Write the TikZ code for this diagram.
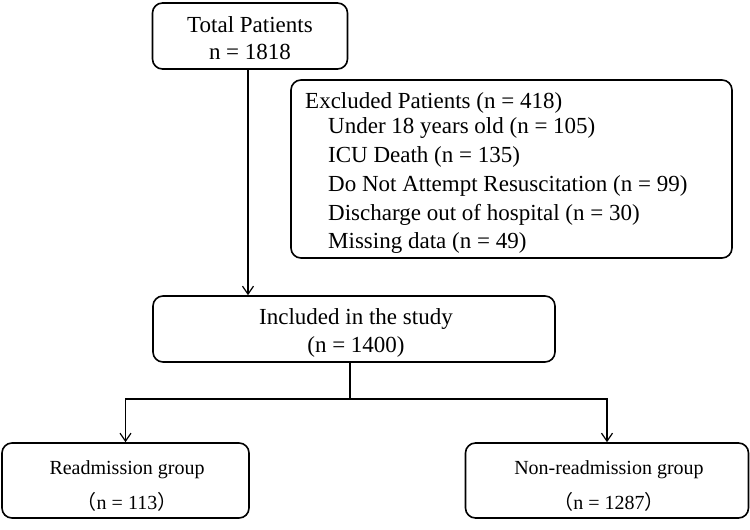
\documentclass[tikz,border=0pt]{standalone}
\usepackage{fontspec}
\setmainfont{Liberation Serif}
\newfontfamily\cjk{Noto Sans CJK SC}
\usetikzlibrary{arrows.meta}
\begin{document}
\begin{tikzpicture}[x=1pt,y=-1pt,
  box/.style={draw, line width=1.6pt, rounded corners=10pt, inner sep=0pt, align=center},
  conn/.style={line width=1.2pt},
  arr/.style={conn,-{Straight Barb[length=8pt,width=11pt,line width=1.2pt]}},
  big/.style={font=\fontsize{23}{27.5}\selectfont},
  txt/.style={inner sep=0pt, align=center},
  small/.style={font=\fontsize{20}{35}\selectfont},
  line/.style={anchor=base west, inner sep=0pt, font=\fontsize{23}{27.5}\selectfont}]
\useasboundingbox (0,0) rectangle (750,530);

\node[box, minimum width=195pt, minimum height=66pt] (total) at (250,36) {};
\node[txt, big] (totalt) at (250,38) {Total Patients\\n = 1818};

\node[box, minimum width=441pt, minimum height=178pt] (excl) at (511.5,169) {};
\node[line] (e0) at (305,108) {Excluded Patients (n = 418)};
\node[line] (e1) at (328,133) {Under 18 years old (n = 105)};
\node[line] (e2) at (328,162) {ICU Death (n = 135)};
\node[line] (e3) at (328,191) {Do Not Attempt Resuscitation (n = 99)};
\node[line] (e4) at (328,220) {Discharge out of hospital (n = 30)};
\node[line] (e5) at (328,248) {Missing data (n = 49)};

\node[box, minimum width=402pt, minimum height=66pt] (incl) at (354,329) {};
\node[txt, big] (inclt) at (356,333) {Included in the study\\(n = 1400)};

\node[box, minimum width=247pt, minimum height=75pt] (read) at (125.5,480.5) {};
\node[txt, small] (readt) at (127,486) {Readmission group\\{\cjk （}n = 113{\cjk ）}};
\node[box, minimum width=283pt, minimum height=75pt] (nonread) at (607,480.5) {};
\node[txt, small] (nonreadt) at (609,486) {Non-readmission group\\{\cjk （}n = 1287{\cjk ）}};

\coordinate (split) at (350,399);

\draw[arr] ([xshift=-2pt]total.south) -- ([xshift=-2pt]total.south |- incl.north);
\draw[conn] (incl.south -| split) -- (split);
\draw[arr] (split) -| (read.north);
\draw[arr] (split) -| (nonread.north);
\end{tikzpicture}
\end{document}
